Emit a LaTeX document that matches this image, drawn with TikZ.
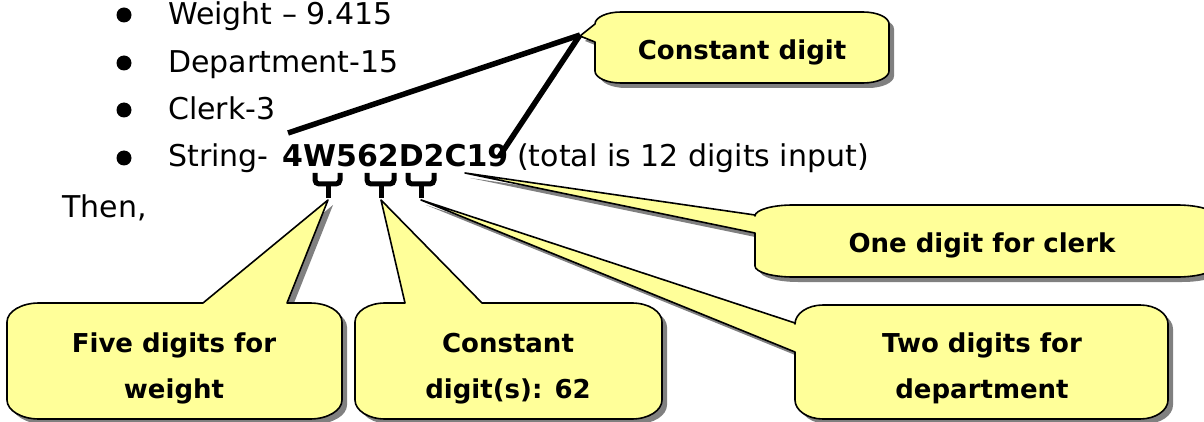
\documentclass[tikz,border=0pt]{standalone}
\usepackage{fontspec}
\setmainfont{DejaVu Sans}
\definecolor{cyellow}{HTML}{FFFF99}
\tikzset{callout path/.style n args={8}{insert path={
 ({#1},{#2+#6}) .. controls ({#1},{#2+0.448*#6}) and ({#1+0.448*#5},{#2}) .. ({#1+#5},{#2})
 #7
 -- ({#3-#5},{#2}) .. controls ({#3-0.448*#5},{#2}) and ({#3},{#2+0.448*#6}) .. ({#3},{#2+#6})
 -- ({#3},{#4-#6}) .. controls ({#3},{#4-0.448*#6}) and ({#3-0.448*#5},{#4}) .. ({#3-#5},{#4})
 -- ({#1+#5},{#4}) .. controls ({#1+0.448*#5},{#4}) and ({#1},{#4-0.448*#6}) .. ({#1},{#4-#6})
 #8 -- cycle}}}
\newcommand\Callout[8]{%
 \fill[black!50, shift={(5pt,-5pt)}, callout path={#1}{#2}{#3}{#4}{#5}{#6}{#7}{#8}];
 \filldraw[fill=cyellow, draw=black, line width=1.6pt, line join=round, callout path={#1}{#2}{#3}{#4}{#5}{#6}{#7}{#8}];}
\begin{document}
\begin{tikzpicture}[x=1pt,y=-1pt,
  txt/.style={inner sep=0pt, anchor=base west, font=\fontsize{30}{36}\selectfont},
  ctxt/.style={inner sep=0pt, anchor=base, font=\fontsize{26}{30}\selectfont\bfseries},
  bul/.style={circle, fill=black, inner sep=0pt, minimum size=15pt},
  brk/.style={line width=5pt, rounded corners=4pt},
  ptr/.style={line width=5.5pt}]
\useasboundingbox (0,0) rectangle (1204,422);
% bullet list
\node[bul] (b1) at (124,15) {};
\node[bul] (b2) at (124,63) {};
\node[bul] (b3) at (124,110) {};
\node[bul] (b4) at (124,158) {};
\node[txt] (t1) at (168,25) {Weight – 9.415};
\node[txt] (t2) at (168,73) {Department-15};
\node[txt] (t3) at (168,120) {Clerk-3};
\node[txt] (t4) at (168,167) {String-};
\node[txt, font=\fontsize{30}{36}\selectfont\bfseries] (code) at (282,167) {4W562D2C19};
\node[txt] (t5) at (517,167) {(total is 12 digits input)};
\node[txt] (then) at (62,217) {Then,};
% callouts
\Callout{595}{12}{889}{83}{26}{12}{}{-- (595,42) -- (580,36)}
\Callout{755}{205}{1215}{277}{38}{11}{}{-- (755,233) -- (465,173) -- (755,215)}
\Callout{795}{305}{1168}{419}{28}{19}{}{-- (795,352) -- (421,200) -- (795,323)}
\Callout{355}{303}{662}{419}{30}{19}{-- (405,303) -- (381,200) -- (482,303)}{}
\Callout{7}{303}{342}{419}{32}{19}{-- (203,303) -- (328,200) -- (287,303)}{}
\node[ctxt] (ca) at (742,60) {Constant digit};
\node[ctxt] (cb) at (982,252) {One digit for clerk};
\node[ctxt] (cc1) at (982,352) {Two digits for};
\node[ctxt] (cc2) at (982,398) {department};
\node[ctxt] (cd1) at (508,352) {Constant};
\node[ctxt] (cd2) at (508,398) {digit(s): 62};
\node[ctxt] (ce1) at (174,352) {Five digits for};
\node[ctxt] (ce2) at (174,398) {weight};
% pointer lines
\coordinate (tipA) at (580,35);
\coordinate (pA) at (288,133);
\coordinate (pB) at (499,157);
\draw[ptr] (pA) -- (tipA);
\draw[ptr] (pB) -- (tipA);
% brackets
\draw[brk] (315,173) -- (315,184) -- (340,184) -- (340,173);
\draw[brk] (328,184) -- (328,198);
\draw[brk] (367,173) -- (367,184) -- (394,184) -- (394,173);
\draw[brk] (381,184) -- (381,198);
\draw[brk] (408,173) -- (408,184) -- (434,184) -- (434,173);
\draw[brk] (421,184) -- (421,198);
\end{tikzpicture}
\end{document}
